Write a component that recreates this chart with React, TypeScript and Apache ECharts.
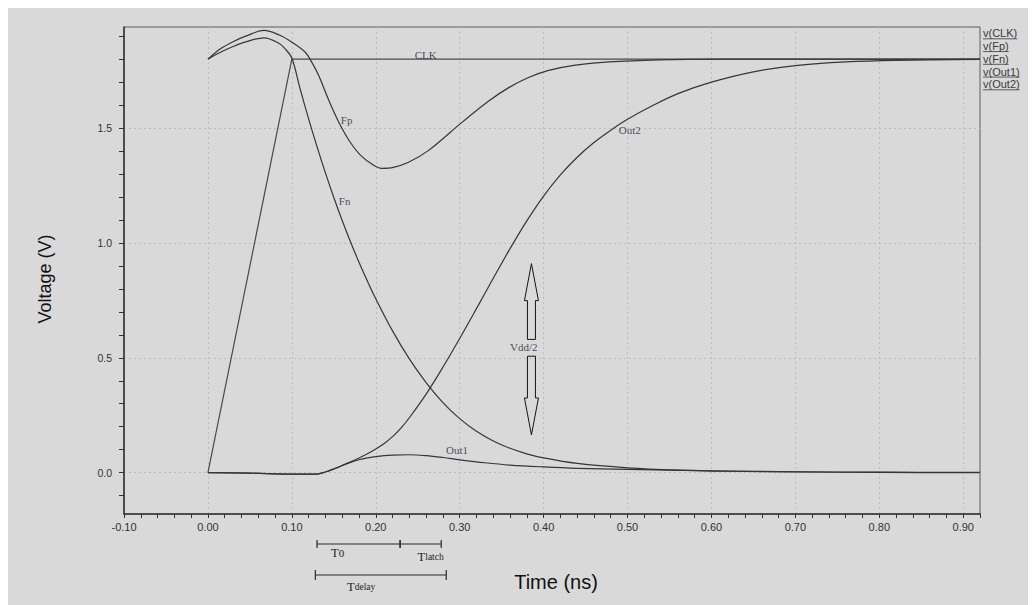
import React, { useEffect, useRef } from 'react';
import * as echarts from 'echarts';

// ---------- data (time in ns, voltage in V) ----------
const clkT = [0, 0.1, 0.92];
const clkV = [0, 1.8, 1.8];

const fpT = [0, 0.015, 0.03, 0.045, 0.067, 0.085, 0.1, 0.116, 0.124, 0.132, 0.144, 0.156, 0.168, 0.182, 0.1975, 0.207, 0.221, 0.239, 0.263, 0.303, 0.335, 0.358, 0.382, 0.406, 0.436, 0.478, 0.537, 0.609, 0.92];
const fpV = [1.8, 1.845, 1.876, 1.9, 1.925, 1.905, 1.874, 1.83, 1.785, 1.729, 1.621, 1.525, 1.447, 1.381, 1.338, 1.325, 1.329, 1.351, 1.403, 1.526, 1.619, 1.675, 1.72, 1.751, 1.773, 1.788, 1.797, 1.8, 1.8];

const fnT = [0, 0.015, 0.03, 0.045, 0.067, 0.085, 0.092, 0.1, 0.11, 0.12, 0.13, 0.14, 0.15, 0.16, 0.17, 0.18, 0.19, 0.2, 0.22, 0.24, 0.26, 0.28, 0.3, 0.32, 0.34, 0.36, 0.38, 0.4, 0.44, 0.5, 0.56, 0.62, 0.7, 0.8, 0.92];
const fnV = [1.8, 1.83, 1.855, 1.875, 1.893, 1.868, 1.845, 1.805, 1.669, 1.54, 1.419, 1.305, 1.198, 1.098, 1.004, 0.916, 0.834, 0.757, 0.617, 0.495, 0.392, 0.305, 0.235, 0.18, 0.138, 0.106, 0.082, 0.064, 0.04, 0.021, 0.011, 0.006, 0.003, 0.001, 0];

const out1T = [0, 0.05, 0.1, 0.13, 0.14, 0.15, 0.16, 0.17, 0.18, 0.19, 0.2, 0.22, 0.24, 0.26, 0.28, 0.3, 0.33, 0.36, 0.4, 0.44, 0.5, 0.6, 0.7, 0.8, 0.92];
const out1V = [0, -0.002, -0.006, -0.006, 0.003, 0.016, 0.031, 0.045, 0.056, 0.064, 0.07, 0.076, 0.078, 0.074, 0.066, 0.056, 0.043, 0.033, 0.025, 0.019, 0.014, 0.008, 0.004, 0.002, 0.001];

const out2T = [0, 0.05, 0.1, 0.13, 0.14, 0.15, 0.16, 0.17, 0.18, 0.19, 0.2, 0.21, 0.22, 0.23, 0.24, 0.26, 0.28, 0.3, 0.32, 0.34, 0.36, 0.38, 0.4, 0.42, 0.44, 0.46, 0.48, 0.5, 0.53, 0.56, 0.6, 0.65, 0.7, 0.76, 0.82, 0.92];
const out2V = [0, -0.002, -0.006, -0.006, 0.003, 0.016, 0.031, 0.047, 0.064, 0.082, 0.103, 0.127, 0.157, 0.194, 0.239, 0.342, 0.459, 0.584, 0.714, 0.846, 0.975, 1.096, 1.204, 1.296, 1.373, 1.437, 1.491, 1.538, 1.598, 1.65, 1.7, 1.745, 1.772, 1.788, 1.795, 1.799];

// curve labels
const curveLabelText = ['CLK', 'Fp', 'Fn', 'Out2', 'Out1', 'Vdd/2'];
const curveLabelT = [0.2595, 0.1653, 0.1629, 0.5026, 0.2968, 0.3763];
const curveLabelV = [1.82, 1.534, 1.183, 1.49, 0.0974, 0.545];

// Vdd/2 arrows
const arrowT = [0.3855, 0.3855];
const arrowBaseV = [0.58, 0.507];
const arrowTipV = [0.91, 0.164];

// timing brackets (ns)
const bracketStart = [0.13, 0.229, 0.128];
const bracketEnd = [0.229, 0.278, 0.284];
const bracketRow = [0, 0, 1];
const timingLabelMain = ['T', 'T', 'T'];
const timingLabelSub = ['0', 'latch', 'delay'];
const timingLabelT = [0.1546, 0.2654, 0.1826];
const timingLabelRow = [0, 1, 2];

// legend
const legendNames = ['v(CLK)', 'v(Fp)', 'v(Fn)', 'v(Out1)', 'v(Out2)'];

// axis ticks
const xLabelValues = [-0.1, 0, 0.1, 0.2, 0.3, 0.4, 0.5, 0.6, 0.7, 0.8, 0.9];
const yLabelValues = [0, 0.5, 1.0, 1.5];
const yTickValues = [-0.1, 0, 0.1, 0.2, 0.3, 0.4, 0.5, 0.6, 0.7, 0.8, 0.9, 1.0, 1.1, 1.2, 1.3, 1.4, 1.5, 1.6, 1.7, 1.8, 1.9];

// ---------- styles ----------
const X_MIN = -0.1, X_MAX = 0.92, Y_MIN = -0.18, Y_MAX = 1.94;
const SANS = "'Liberation Sans', Arial, sans-serif";
const SERIF = "'Liberation Serif', 'Times New Roman', serif";
const LINE = '#363636';
const BRACKET_OFFSET = [30, 61];
const BRACKET_TICK = [4, 5];
const TIMING_LABEL_OFFSET = [39, 43, 72.5];
const HEAD_LEN = 37, HEAD_HW = 7, SHAFT_HW = 4;

const zip = (t: number[], v: number[]) => t.map((x, i) => [x, v[i]]);

export default function App() {
  const ref = useRef<HTMLDivElement>(null);
  useEffect(() => {
    document.body.style.overflow = 'hidden';
    const chart = echarts.init(ref.current!, null, { renderer: 'svg' });

    const ctx = document.createElement('canvas').getContext('2d')!;
    ctx.font = `11px ${SANS}`;
    const legendX = 975, legendY0 = 25.3, legendStep = 12.75;
    const legendGraphics: any[] = [];
    legendNames.forEach((n, i) => {
      const y = legendY0 + i * legendStep;
      const w = ctx.measureText(n).width;
      legendGraphics.push({
        type: 'text', x: legendX, y, silent: true,
        style: { text: n, fontSize: 11, fontFamily: SANS, fill: '#3a3a3a', align: 'left', verticalAlign: 'middle' },
      });
      legendGraphics.push({
        type: 'line', silent: true,
        shape: { x1: legendX, y1: y + 5.5, x2: legendX + w, y2: y + 5.5 },
        style: { stroke: '#3a3a3a', lineWidth: 0.8 },
      });
    });

    const lineSeries = (name: string, t: number[], v: number[], smooth: number | boolean, color = LINE) => ({
      type: 'line', name, data: zip(t, v), showSymbol: false, symbol: 'none', smooth,
      silent: true, lineStyle: { color, width: 1.2 }, z: 3,
    });

    const split = { show: true, showMinLine: false, showMaxLine: false, lineStyle: { color: '#bcbcbc', type: [2, 3] as any, width: 1 } };

    const option: any = {
      animation: false,
      backgroundColor: '#d9d9d9',
      grid: { left: 116, top: 19, right: 56, bottom: 91, show: true, borderColor: '#5c5c5c', borderWidth: 1, backgroundColor: 'transparent' },
      xAxis: [
        {
          type: 'value', min: X_MIN, max: X_MAX, interval: 0.1, position: 'bottom',
          axisLine: { show: true, onZero: false, lineStyle: { color: '#333', width: 1.5 } },
          axisTick: { show: false },
          axisLabel: { customValues: xLabelValues, formatter: (v: number) => v.toFixed(2), color: '#333', fontFamily: SANS, fontSize: 11, margin: 7 },
          splitLine: split,
          name: 'Time (ns)', nameLocation: 'middle', nameGap: 58,
          nameTextStyle: { fontFamily: SANS, fontSize: 20, color: '#111', padding: [0, 0, 0, 8] },
        },
        {
          type: 'value', min: X_MIN, max: X_MAX, interval: 0.02, position: 'bottom',
          axisLine: { show: false, onZero: false }, axisTick: { show: true, length: 4, lineStyle: { color: '#333', width: 1 } },
          axisLabel: { show: false }, splitLine: { show: false },
        },
      ],
      yAxis: [
        {
          type: 'value', min: Y_MIN, max: Y_MAX, splitNumber: 4, position: 'left',
          axisLine: { show: true, onZero: false, lineStyle: { color: '#333', width: 1.5 } },
          axisTick: { show: false },
          axisLabel: { customValues: yLabelValues, formatter: (v: number) => v.toFixed(1), color: '#333', fontFamily: SANS, fontSize: 10.5, margin: 12 },
          splitLine: split,
          name: 'Voltage (V)', nameLocation: 'middle', nameGap: 70,
          nameTextStyle: { fontFamily: SANS, fontSize: 18, color: '#111', padding: [0, 17, 0, 0] },
        },
        {
          type: 'value', min: Y_MIN, max: Y_MAX, position: 'left',
          axisLine: { show: false, onZero: false },
          axisTick: { show: true, length: 5, customValues: yTickValues, lineStyle: { color: '#333', width: 1 } },
          axisLabel: { show: false }, splitLine: { show: false },
        },
      ],
      graphic: legendGraphics,
      series: [
        lineSeries('v(CLK)', clkT, clkV, false, '#4a4a4a'),
        lineSeries('v(Fp)', fpT, fpV, 0.35),
        lineSeries('v(Fn)', fnT, fnV, 0.35),
        lineSeries('v(Out1)', out1T, out1V, 0.35),
        lineSeries('v(Out2)', out2T, out2V, 0.35),
        {
          type: 'scatter', name: 'labels', silent: true, symbolSize: 1,
          itemStyle: { color: 'transparent' },
          data: curveLabelT.map((t, i) => [t, curveLabelV[i], curveLabelText[i]]),
          label: {
            show: true, position: 'inside', formatter: (p: any) => p.data[2],
            fontFamily: SERIF, fontSize: 11, color: '#1d1d35',
          },
          z: 5,
        },
        {
          type: 'custom', name: 'Vdd/2 arrows', silent: true, clip: false,
          data: arrowT.map((t, i) => [t, arrowBaseV[i], arrowTipV[i]]),
          renderItem: (_p: any, api: any) => {
            const tip = api.coord([api.value(0), api.value(2)]);
            const base = api.coord([api.value(0), api.value(1)]);
            const s = tip[1] < base[1] ? 1 : -1;
            const hy = tip[1] + s * HEAD_LEN;
            const x = tip[0];
            return {
              type: 'polygon',
              shape: { points: [[x, tip[1]], [x + HEAD_HW, hy], [x + SHAFT_HW, hy], [x + SHAFT_HW, base[1]], [x - SHAFT_HW, base[1]], [x - SHAFT_HW, hy], [x - HEAD_HW, hy]] },
              style: { fill: 'none', stroke: '#151515', lineWidth: 1 },
            };
          },
          z: 4,
        },
        {
          type: 'custom', name: 'timing brackets', silent: true, clip: false,
          data: bracketStart.map((t, i) => [t, bracketEnd[i], bracketRow[i]]),
          encode: { x: [0, 1] },
          renderItem: (_p: any, api: any) => {
            const a = api.coord([api.value(0), Y_MIN]);
            const b = api.coord([api.value(1), Y_MIN]);
            const row = api.value(2);
            const y = a[1] + BRACKET_OFFSET[row];
            const h = BRACKET_TICK[row];
            const st = { stroke: '#2a2a2a', lineWidth: 1.2 };
            return {
              type: 'group',
              children: [
                { type: 'line', shape: { x1: a[0], y1: y, x2: b[0], y2: y }, style: st },
                { type: 'line', shape: { x1: a[0], y1: y - h, x2: a[0], y2: y + h }, style: st },
                { type: 'line', shape: { x1: b[0], y1: y - h, x2: b[0], y2: y + h }, style: st },
              ],
            };
          },
        },
        {
          type: 'custom', name: 'timing labels', silent: true, clip: false,
          data: timingLabelT.map((t, i) => [t, timingLabelRow[i]]),
          encode: { x: 0 },
          renderItem: (p: any, api: any) => {
            const i = p.dataIndex;
            const pt = api.coord([api.value(0), Y_MIN]);
            const sub = timingLabelSub[i];
            return {
              type: 'text',
              x: pt[0], y: pt[1] + TIMING_LABEL_OFFSET[api.value(1)],
              style: {
                text: `{m|${timingLabelMain[i]}}{s|${sub}}`,
                align: 'center', verticalAlign: 'middle',
                rich: {
                  m: { fontFamily: SERIF, fontSize: 12.5, fill: '#1d1d2d', color: '#1d1d2d' },
                  s: { fontFamily: SERIF, fontSize: sub === '0' ? 11 : 9.5, fill: '#1d1d2d', color: '#1d1d2d' },
                },
              },
            };
          },
        },
      ],
    };
    chart.setOption(option);
    return () => chart.dispose();
  }, []);
  return <div ref={ref} style={{ width: 1028, height: 597, background: '#d9d9d9' }} />;
}
